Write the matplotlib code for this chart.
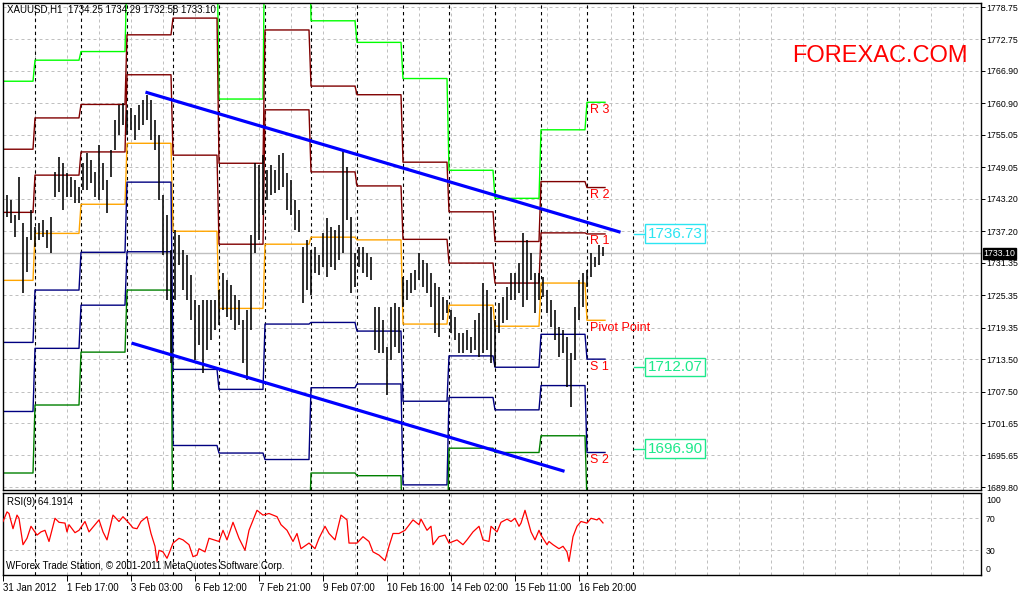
import numpy as np
import matplotlib
matplotlib.use("Agg")
import matplotlib.pyplot as plt
from matplotlib.transforms import blended_transform_factory

plt.rcParams['font.family'] = ['Liberation Sans', 'DejaVu Sans']

# XAUUSD H1, one bar read every second hour: highs and lows
bar_hi = [1738.2, 1743.9, 1743.0, 1740.2, 1747.2, 1738.7, 1736.1, 1741.1, 1738.0, 1738.7,
          1739.3, 1737.4, 1739.8, 1748.2, 1751.0, 1749.8, 1748.0, 1747.2, 1746.7, 1745.4,
          1749.8, 1751.7, 1750.4, 1748.2, 1753.2, 1749.8, 1746.7, 1752.3, 1757.8, 1760.6,
          1760.9, 1759.7, 1760.0, 1758.7, 1760.6, 1761.5, 1762.4, 1761.5, 1757.8, 1755.0,
          1743.9, 1740.2, 1733.7, 1737.4, 1736.5, 1733.7, 1732.8, 1729.1, 1724.5, 1723.5,
          1724.5, 1724.5, 1724.5, 1724.5, 1726.3, 1729.5, 1728.2, 1727.2, 1725.4, 1724.5,
          1720.8, 1722.6, 1736.5, 1749.8, 1749.5, 1751.3, 1748.5, 1749.5, 1748.5, 1751.3,
          1751.7, 1748.0, 1746.7, 1743.0, 1741.1, 1734.3, 1735.6, 1733.7, 1734.3, 1732.8,
          1736.9, 1739.7, 1738.0, 1737.4, 1738.4, 1752.3, 1749.1, 1739.8, 1733.2, 1734.3,
          1734.3, 1733.2, 1732.4, 1723.2, 1723.2, 1720.8, 1715.8, 1723.2, 1723.9, 1723.2,
          1728.7, 1728.2, 1729.5, 1730.0, 1733.2, 1731.9, 1731.3, 1729.5, 1727.6, 1726.9,
          1725.0, 1724.5, 1722.6, 1721.3, 1718.3, 1718.3, 1718.9, 1717.6, 1720.8, 1722.1,
          1727.6, 1726.3, 1723.2, 1720.8, 1723.9, 1725.0, 1726.9, 1729.5, 1729.5, 1731.3,
          1736.9, 1735.6, 1733.2, 1729.5, 1729.5, 1728.7, 1726.3, 1724.5, 1722.6, 1719.5,
          1718.9, 1717.6, 1714.6, 1723.2, 1728.2, 1729.5, 1730.0, 1733.2, 1732.4, 1734.7,
          1734.3]
bar_lo = [1735.6, 1739.8, 1738.7, 1736.1, 1739.3, 1725.7, 1729.6, 1735.6, 1734.3, 1735.6,
          1736.1, 1734.1, 1733.2, 1743.5, 1744.4, 1741.1, 1743.5, 1743.5, 1742.4, 1742.4,
          1744.8, 1744.8, 1746.1, 1743.5, 1743.0, 1744.8, 1740.6, 1747.2, 1752.3, 1755.0,
          1756.9, 1755.0, 1756.0, 1754.1, 1756.0, 1756.9, 1757.8, 1754.1, 1752.3, 1743.0,
          1732.8, 1724.5, 1712.8, 1724.5, 1731.0, 1726.3, 1724.5, 1720.8, 1713.3, 1716.1,
          1710.9, 1715.2, 1717.1, 1718.9, 1719.8, 1722.6, 1721.3, 1720.8, 1718.9, 1719.8,
          1712.8, 1709.6, 1718.9, 1733.2, 1735.6, 1740.2, 1743.0, 1743.9, 1744.3, 1744.8,
          1745.4, 1741.1, 1740.2, 1737.4, 1737.0, 1723.9, 1726.3, 1725.4, 1729.5, 1729.1,
          1730.6, 1728.7, 1730.6, 1730.0, 1731.9, 1733.2, 1739.3, 1725.7, 1726.9, 1730.6,
          1729.5, 1728.7, 1728.2, 1715.2, 1714.6, 1714.6, 1706.9, 1713.3, 1715.8, 1714.6,
          1723.2, 1724.5, 1725.7, 1726.3, 1728.2, 1726.9, 1725.7, 1723.2, 1718.3, 1717.6,
          1720.8, 1722.1, 1718.3, 1717.1, 1714.6, 1714.6, 1715.2, 1714.6, 1715.2, 1713.9,
          1714.6, 1715.2, 1712.8, 1712.0, 1718.3, 1720.2, 1720.8, 1724.5, 1724.5, 1725.7,
          1723.2, 1724.5, 1728.2, 1722.1, 1724.5, 1725.0, 1722.1, 1719.5, 1717.1, 1713.9,
          1714.6, 1708.3, 1704.6, 1713.3, 1720.8, 1723.2, 1726.9, 1728.7, 1730.6, 1731.0,
          1732.6]

# daily pivot levels (one value per trading day)
day_start = [0, 16, 39, 62, 85, 108, 131, 154, 177, 200, 223, 246, 269, 292]
day_end = 302
r3 = [1765.0, 1768.9, 1770.5, 1786.2, 1790.8, 1761.7, 1799.3, 1776.2, 1772.2, 1765.5, 1748.5, 1743.3, 1756.0, 1761.1]
r2 = [1752.4, 1758.2, 1760.7, 1773.6, 1776.7, 1749.8, 1774.5, 1764.1, 1762.5, 1750.0, 1740.8, 1735.3, 1746.4, 1745.3]
r1 = [1740.7, 1747.6, 1751.9, 1766.2, 1751.3, 1734.8, 1759.7, 1748.2, 1745.6, 1735.7, 1731.3, 1727.6, 1736.9, 1736.7]
pp = [1728.1, 1736.8, 1742.2, 1753.5, 1737.2, 1722.9, 1734.8, 1736.1, 1735.6, 1720.0, 1723.5, 1719.6, 1727.6, 1720.7]
s1 = [1716.6, 1726.3, 1733.3, 1746.3, 1711.6, 1707.9, 1720.0, 1720.3, 1718.7, 1705.7, 1714.1, 1712.0, 1718.1, 1713.5]
s2 = [1703.8, 1715.5, 1723.5, 1733.4, 1697.5, 1696.1, 1694.9, 1708.2, 1708.9, 1690.2, 1706.4, 1704.1, 1708.6, 1696.2]
s3 = [1692.4, 1705.0, 1714.8, 1726.3, 1672.4, 1681.1, 1680.4, 1692.4, 1691.9, 1675.8, 1697.0, 1696.2, 1699.3, 1687.2]
level_names = ['R 3', 'R 2', 'R 1', 'Pivot Point', 'S 1', 'S 2']

# channel lines (bar, price)
trend_hi_x = [72, 308]
trend_hi_y = [1762.9, 1737.1]
trend_lo_x = [65, 280]
trend_lo_y = [1716.4, 1692.8]

# RSI(9)
rsi_bar = [0, 2, 3, 5, 7, 8, 10, 12, 14, 17,
           19, 21, 23, 26, 28, 31, 32, 33, 36, 38,
           41, 43, 46, 48, 50, 52, 55, 58, 60, 63,
           65, 67, 69, 72, 74, 76, 77, 78, 80, 82,
           83, 85, 88, 90, 93, 95, 97, 98, 101, 103,
           108, 110, 112, 115, 118, 121, 123, 127, 130, 133,
           137, 139, 142, 145, 147, 149, 153, 156, 158, 161,
           163, 166, 169, 172, 173, 177, 180, 183, 185, 188,
           191, 193, 195, 198, 201, 205, 208, 209, 212, 214,
           215, 218, 221, 223, 227, 230, 232, 235, 238, 240,
           243, 244, 247, 249, 252, 254, 256, 258, 259, 261,
           263, 264, 266, 268, 269, 272, 273, 275, 278, 280,
           282, 283, 285, 287, 289, 292, 294, 297, 298, 300]
rsi_val = [66, 78, 76, 57, 74, 70, 37, 45, 60, 49,
           53, 55, 41, 70, 65, 64, 53, 62, 52, 55,
           66, 53, 62, 68, 53, 43, 74, 66, 72, 64,
           58, 57, 66, 72, 51, 35, 16, 30, 28, 20,
           26, 39, 45, 43, 37, 22, 24, 32, 28, 45,
           41, 55, 43, 65, 45, 30, 55, 80, 74, 76,
           72, 62, 55, 41, 51, 32, 39, 32, 45, 60,
           51, 43, 74, 68, 39, 39, 47, 41, 28, 24,
           17, 35, 51, 51, 55, 68, 62, 69, 55, 60,
           37, 47, 49, 39, 43, 37, 43, 53, 60, 43,
           41, 60, 53, 65, 69, 66, 70, 60, 64, 80,
           62, 53, 43, 55, 49, 37, 41, 37, 32, 35,
           28, 16, 47, 60, 66, 64, 70, 68, 70, 64.2]

price_ticks = [1778.75, 1772.75, 1766.90, 1760.90, 1755.05, 1749.05, 1743.20, 1737.20,
               1731.35, 1725.35, 1719.35, 1713.50, 1707.50, 1701.65, 1695.65, 1689.80]
rsi_labels = ['100', '70', '30', '0']
rsi_label_pos = [94, 70, 30, 7]   # MT4 keeps the end labels inside the window
time_ticks = [0, 32, 64, 96, 128, 160, 192, 224, 256, 288]
time_labels = ['31 Jan 2012', '1 Feb 17:00', '3 Feb 03:00', '6 Feb 12:00', '7 Feb 21:00',
               '9 Feb 07:00', '10 Feb 16:00', '14 Feb 02:00', '15 Feb 11:00', '16 Feb 20:00']
separators = day_start[1:] + [315]
last_price = 1733.10
box_vals = [1736.73, 1712.07, 1696.90]
box_cols = ['#2ce5f2', '#1de98b', '#1de98b']

W, H = 1018, 592
fig = plt.figure(figsize=(W / 100, H / 100), dpi=100)
ax = fig.add_axes([2.5 / W, 102 / H, 978 / W, 487.5 / H])
ar = fig.add_axes([2.5 / W, 17 / H, 978 / W, 82.5 / H])
xlim = (-0.25, 488.75)
px = 0.72
dash = (0, (3, 3))

for a in (ax, ar):
    a.set_xlim(*xlim)
    for b in range(16, 489, 16):
        a.axvline(b, color='#c0c0c0', lw=px, ls=dash, zorder=0)
    for s in separators:
        a.axvline(s, color='black', lw=px * 1.1, ls=dash, zorder=1)
    for sp in a.spines.values():
        sp.set_color('black')
        sp.set_linewidth(1)
    a.yaxis.tick_right()

# price panel
ax.set_ylim(1689.25, 1779.59)
for t in price_ticks:
    ax.axhline(t, color='#c0c0c0', lw=px, ls=dash, zorder=0)
ax.axhline(last_price, color='#c0c0c0', lw=1, zorder=0.5)

bar_x = np.arange(len(bar_hi)) * 2
ax.vlines(bar_x, bar_lo, bar_hi, color='black', lw=1.15, zorder=3)

lens = np.diff(day_start + [day_end])
xs = np.arange(day_end)
levels = [(r3, '#00ff00'), (r2, '#800000'), (r1, '#800000'), (pp, '#ffa500'),
          (s1, '#000080'), (s2, '#000080'), (s3, '#008000')]
for vals, col in levels:
    ax.plot(xs, np.repeat(vals, lens), color=col, lw=1.0, zorder=2)

ax.plot(trend_hi_x, trend_hi_y, color='#0000ff', lw=2.3, zorder=4)
ax.plot(trend_lo_x, trend_lo_y, color='#0000ff', lw=2.3, zorder=4)

for name, (vals, col) in zip(level_names, levels):
    ax.annotate(name, (293.5, vals[-1]), xytext=(0, -1), textcoords='offset points',
                color='#ff0000', fontsize=9, ha='left', va='top', zorder=5)

for v, c in zip(box_vals, box_cols):
    ax.plot([315.5, 320.5], [v, v], color=c, lw=1, zorder=5)
    ax.text(336, v, f'{v:.2f}', color=c, fontsize=11, ha='center', va='center', zorder=5,
            bbox=dict(boxstyle='square,pad=0.15', fc='white', ec=c, lw=1))

ax.set_xticks([])
ax.set_yticks(price_ticks)
ax.set_yticklabels([f'{t:.2f}' for t in price_ticks], fontsize=6.3)
ax.tick_params(axis='y', direction='out', length=3, width=0.7, pad=1.5)
tr = blended_transform_factory(ax.transAxes, ax.transData)
ax.text(1.003, last_price, f'{last_price:.2f}', transform=tr, color='white', fontsize=6.3,
        ha='left', va='center', zorder=6, clip_on=False,
        bbox=dict(boxstyle='square,pad=0.1', fc='black', ec='black'))

# RSI panel
ar.set_ylim(-0.9, 102.25)
for t in (70, 30):
    ar.axhline(t, color='#c0c0c0', lw=px, ls=dash, zorder=0)
ar.plot(rsi_bar, rsi_val, color='#ff0000', lw=0.9, zorder=3)
ar.set_yticks(rsi_label_pos)
ar.set_yticklabels(rsi_labels, fontsize=6.3)
ar.tick_params(axis='y', direction='out', length=0, pad=4)
ar.set_xticks(time_ticks)
ar.set_xticklabels(time_labels, fontsize=7, ha='left')
ar.tick_params(axis='x', direction='out', length=4, width=0.7, pad=2)

fig.text(7 / W, 1 - 10 / H, 'XAUUSD,H1  1734.25 1734.29 1732.58 1733.10',
         fontsize=7, ha='left', va='center')
fig.text(792 / W, 1 - 56 / H, 'FOREXAC.COM', color='#ff0000', fontsize=17,
         ha='left', va='center')
fig.text(7 / W, 1 - 502 / H, 'RSI(9) 64.1914', fontsize=7, ha='left', va='center')
fig.text(6 / W, 1 - 566 / H, 'WForex Trade Station, \u00a9 2001-2011 MetaQuotes Software Corp.',
         fontsize=7, ha='left', va='center')

fig.savefig('out.png', dpi=100)
